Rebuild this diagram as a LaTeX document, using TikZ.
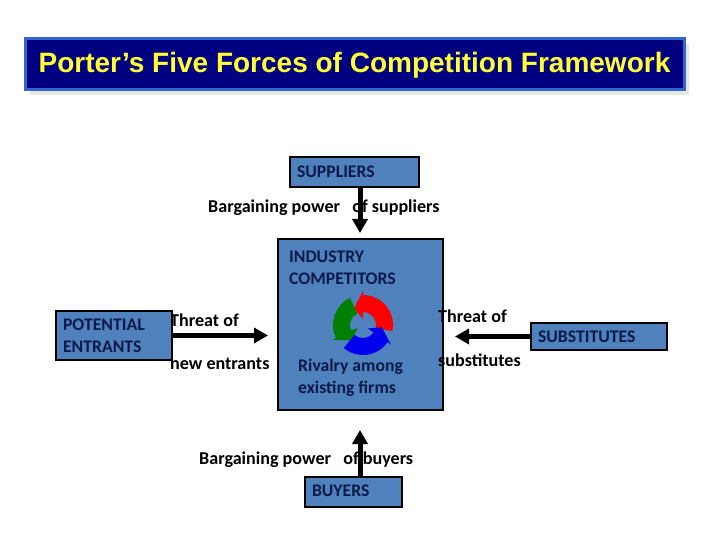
\documentclass[tikz,border=0pt]{standalone}
\usepackage{fontspec}
\usetikzlibrary{arrows.meta,shadows}
\setmainfont{Carlito}
\newfontfamily\titlefont{Liberation Sans}
\definecolor{boxblue}{HTML}{4F81BD}
\definecolor{boxtext}{HTML}{0B1A4A}
\definecolor{titlenavy}{HTML}{000080}
\definecolor{titleedge}{HTML}{3366CC}
\definecolor{titleyellow}{HTML}{FFFF33}
\definecolor{shadowgray}{HTML}{E8E8E2}
\definecolor{cyclered}{HTML}{FF0000}
\definecolor{cyclegreen}{HTML}{008000}
\definecolor{cycleblue}{HTML}{0000EE}
\tikzset{
  forcebox/.style={draw=black,line width=2pt,fill=boxblue,inner sep=0pt,inner xsep=7pt,align=left,text=boxtext,font=\fontsize{17.7}{22}\selectfont\bfseries},
  inbox/.style={anchor=west,inner sep=0pt,align=left,text=boxtext,font=\fontsize{17.7}{22}\selectfont\bfseries},
  forcelabel/.style={anchor=west,inner sep=0pt,align=left,text=black,font=\fontsize{18.1}{22}\selectfont\bfseries},
  forcearrow/.style={draw=black,line width=5pt,-{Triangle[width=15pt,length=14pt]}}
}
\begin{document}
\begin{tikzpicture}[x=1pt,y=-1pt]
\useasboundingbox (0,0) rectangle (720,540);
\node[fill=titlenavy,draw=titleedge,line width=3pt,minimum width=659pt,minimum height=51pt,inner sep=0pt,text height=22pt,text depth=4pt,text=titleyellow,font=\titlefont\fontsize{28}{30}\selectfont\bfseries,drop shadow={shadow xshift=5pt,shadow yshift=-6pt,fill=shadowgray,opacity=1}] (title) at (354.5,64) {Porter’s Five Forces of Competition Framework};
% labels under the boxes
\node[forcelabel] (threatleft) at (170,320) {Threat of};
\node[forcelabel] (newentrants) at (170,363.5) {new entrants};
\node[forcelabel] (bargainsup) at (208,207.5) {Bargaining power \ \ of suppliers};
\node[forcelabel] (bargainbuy) at (199,459.5) {Bargaining power \ \ of buyers};
% boxes
\node[forcebox,minimum width=129pt,minimum height=30pt,text width=115pt,yshift=-1pt] (suppliers) at (354.5,171) {SUPPLIERS};
\node[forcebox,minimum width=165pt,minimum height=171pt] (industry) at (360.5,324.5) {};
\node[forcebox,minimum width=116pt,minimum height=49pt,text width=102pt] (entrants) at (114,335.5) {POTENTIAL\\ENTRANTS};
\node[forcebox,minimum width=136pt,minimum height=27pt,text width=122pt] (substitutes) at (599,336.5) {SUBSTITUTES};
\node[forcebox,minimum width=97pt,minimum height=30pt,text width=83pt,text depth=2pt] (buyers) at (353.5,492) {BUYERS};
\node[inbox] (competitors) at (289,267.5) {INDUSTRY\\COMPETITORS};
\node[inbox] (rivalry) at (298,377.5) {Rivalry among\\existing firms};
\node[forcelabel] (threatright) at (438,316) {Threat of};
\node[forcelabel] (substlabel) at (438,360) {substitutes};
% rivalry cycle
\begin{scope}[shift={(363,325)},y=1pt]
\foreach \col/\from/\to in {cyclered/-12/90,cyclegreen/116/206,cycleblue/230/325}{
  \fill[\col] (\from:30) arc (\from:\to:30) -- (\to:34) -- (\to+28:19) -- (\to:6) -- (\to:13) arc (\to:\from:13) -- cycle;
}
\end{scope}
% forces
\coordinate (axis) at (360,325);
\draw[forcearrow,shorten >=5pt] (suppliers.south -| axis) -- (industry.north -| axis);
\draw[forcearrow,shorten >=19pt] (buyers.north -| axis) -- (industry.south -| axis);
\draw[forcearrow,shorten >=9pt] (entrants) -- (entrants -| industry.west);
\draw[forcearrow,shorten >=11pt] (substitutes) -- (substitutes -| industry.east);
\end{tikzpicture}
\end{document}
